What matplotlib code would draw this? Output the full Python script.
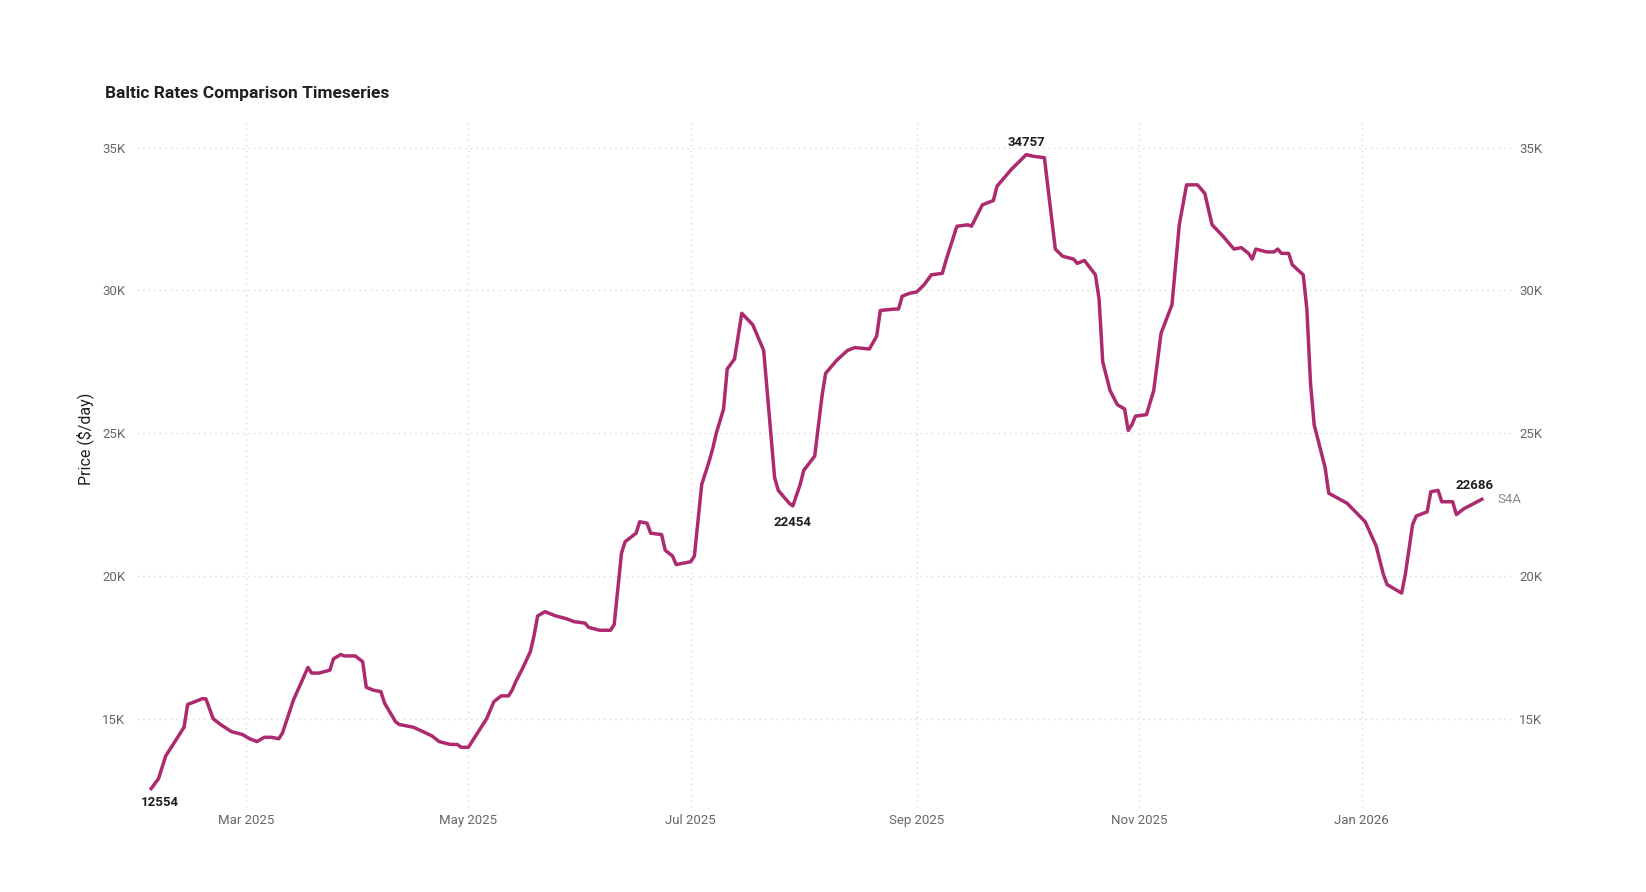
import matplotlib
matplotlib.use("Agg")
import matplotlib.pyplot as plt
import matplotlib.dates as mdates
from matplotlib.ticker import FuncFormatter, FixedLocator
import pandas as pd

LINE = "#AD2A6F"
INK = "#1F1F1F"
GREY = "#666666"
GRID = "#D9D9D9"

plt.rcParams["font.family"] = ["Roboto", "DejaVu Sans"]

# S4A timecharter rate, $/day
DATES = [
    "2025-02-03", "2025-02-05", "2025-02-07", "2025-02-09", "2025-02-12", "2025-02-13",
    "2025-02-17", "2025-02-18", "2025-02-20", "2025-02-22", "2025-02-25", "2025-02-28",
    "2025-03-02", "2025-03-04", "2025-03-06", "2025-03-08", "2025-03-10", "2025-03-11",
    "2025-03-14", "2025-03-18", "2025-03-19", "2025-03-21", "2025-03-24", "2025-03-25",
    "2025-03-27", "2025-03-28", "2025-03-31", "2025-04-02", "2025-04-03", "2025-04-05",
    "2025-04-07", "2025-04-08", "2025-04-11", "2025-04-12", "2025-04-16", "2025-04-21",
    "2025-04-23", "2025-04-26", "2025-04-28", "2025-04-29", "2025-05-01", "2025-05-03",
    "2025-05-06", "2025-05-08", "2025-05-10", "2025-05-12", "2025-05-13", "2025-05-14",
    "2025-05-16", "2025-05-18", "2025-05-19", "2025-05-20", "2025-05-22", "2025-05-25",
    "2025-05-28", "2025-05-30", "2025-06-02", "2025-06-03", "2025-06-06", "2025-06-09",
    "2025-06-10", "2025-06-12", "2025-06-13", "2025-06-16", "2025-06-17", "2025-06-19",
    "2025-06-20", "2025-06-23", "2025-06-24", "2025-06-26", "2025-06-27", "2025-07-01",
    "2025-07-02", "2025-07-04", "2025-07-06", "2025-07-07", "2025-07-08", "2025-07-10",
    "2025-07-11", "2025-07-13", "2025-07-15", "2025-07-18", "2025-07-21", "2025-07-24",
    "2025-07-25", "2025-07-28", "2025-07-29", "2025-07-31", "2025-08-01", "2025-08-04",
    "2025-08-06", "2025-08-07", "2025-08-10", "2025-08-13", "2025-08-15", "2025-08-19",
    "2025-08-21", "2025-08-22", "2025-08-26", "2025-08-27", "2025-08-28", "2025-08-30",
    "2025-09-01", "2025-09-03", "2025-09-05", "2025-09-08", "2025-09-09", "2025-09-10",
    "2025-09-12", "2025-09-15", "2025-09-16", "2025-09-18", "2025-09-19", "2025-09-22",
    "2025-09-23", "2025-09-25", "2025-09-27", "2025-09-29", "2025-10-01", "2025-10-03",
    "2025-10-06", "2025-10-09", "2025-10-11", "2025-10-14", "2025-10-15", "2025-10-17",
    "2025-10-20", "2025-10-21", "2025-10-22", "2025-10-24", "2025-10-26", "2025-10-28",
    "2025-10-29", "2025-10-30", "2025-10-31", "2025-11-03", "2025-11-05", "2025-11-07",
    "2025-11-10", "2025-11-12", "2025-11-14", "2025-11-17", "2025-11-19", "2025-11-21",
    "2025-11-24", "2025-11-26", "2025-11-27", "2025-11-29", "2025-12-01", "2025-12-02",
    "2025-12-03", "2025-12-06", "2025-12-08", "2025-12-09", "2025-12-10", "2025-12-12",
    "2025-12-13", "2025-12-16", "2025-12-17", "2025-12-18", "2025-12-19", "2025-12-22",
    "2025-12-23", "2025-12-28", "2026-01-02", "2026-01-05", "2026-01-07", "2026-01-08",
    "2026-01-12", "2026-01-13", "2026-01-15", "2026-01-16", "2026-01-19", "2026-01-20",
    "2026-01-22", "2026-01-23", "2026-01-26", "2026-01-27", "2026-01-29", "2026-02-01",
    "2026-02-03",
]
RATES = [
    12554, 12900, 13700, 14100, 14700, 15500,
    15700, 15700, 15000, 14800, 14550, 14450,
    14300, 14200, 14350, 14350, 14300, 14500,
    15650, 16800, 16600, 16600, 16700, 17100,
    17250, 17200, 17200, 17000, 16100, 16000,
    15950, 15550, 14900, 14800, 14700, 14400,
    14200, 14100, 14100, 14000, 14000, 14400,
    15000, 15600, 15800, 15800, 16000, 16300,
    16800, 17350, 17900, 18600, 18750, 18600,
    18500, 18400, 18350, 18200, 18100, 18100,
    18300, 20800, 21200, 21500, 21900, 21850,
    21500, 21450, 20900, 20700, 20400, 20500,
    20700, 23200, 24000, 24450, 25000, 25850,
    27250, 27600, 29200, 28800, 27900, 23450,
    23000, 22550, 22454, 23200, 23700, 24200,
    26300, 27100, 27550, 27900, 28000, 27950,
    28400, 29300, 29350, 29350, 29800, 29900,
    29950, 30200, 30550, 30600, 31050, 31450,
    32250, 32300, 32250, 32750, 33000, 33150,
    33650, 33950, 34250, 34500, 34757, 34700,
    34650, 31450, 31200, 31100, 30950, 31050,
    30550, 29700, 27500, 26500, 26000, 25850,
    25100, 25300, 25600, 25650, 26500, 28500,
    29500, 32300, 33700, 33700, 33400, 32300,
    31900, 31600, 31450, 31500, 31300, 31100,
    31450, 31350, 31350, 31450, 31300, 31300,
    30900, 30550, 29350, 26750, 25300, 23800,
    22900, 22550, 21900, 21050, 20050, 19700,
    19400, 20050, 21800, 22100, 22250, 22950,
    23000, 22600, 22600, 22150, 22350, 22550,
    22686,
]
SERIES = "S4A"
TITLE = "Baltic Rates Comparison Timeseries"
Y_TICKS = [15000, 20000, 25000, 30000, 35000]
X_TICKS = ["2025-03-01", "2025-05-01", "2025-07-01", "2025-09-01", "2025-11-01", "2026-01-01"]

dates = pd.to_datetime(DATES)
kfmt = FuncFormatter(lambda v, _: f"{v / 1000:.0f}K")

fig = plt.figure(figsize=(16.46, 8.92), dpi=100)
fig.patch.set_facecolor("white")
ax = fig.add_axes([0.083, 0.095, 0.835, 0.773])

ax.plot(dates, RATES, color=LINE, lw=2.5, solid_joinstyle="round", zorder=3)

ax.set_xlim(pd.Timestamp("2025-01-30"), pd.Timestamp("2026-02-11"))
ax.set_ylim(11900, 36050)
ax.xaxis.set_major_locator(FixedLocator(mdates.date2num(pd.to_datetime(X_TICKS))))
ax.xaxis.set_major_formatter(mdates.DateFormatter("%b %Y"))
ax.set_yticks(Y_TICKS)
ax.yaxis.set_major_formatter(kfmt)
ax.grid(color=GRID, lw=1.0, ls=(0, (1, 3)), zorder=0)
for sp in ax.spines.values():
    sp.set_visible(False)
ax.tick_params(length=0, colors=GREY, labelsize=9.5)
ax.tick_params(axis="y", pad=8)
ax.tick_params(axis="x", pad=5)
ax.set_ylabel("Price ($/day)", fontsize=11.5, color=INK)
ax.yaxis.set_label_coords(-0.031, 0.535)

ax2 = ax.twinx()
ax2.set_ylim(ax.get_ylim())
ax2.set_yticks(Y_TICKS)
ax2.yaxis.set_major_formatter(kfmt)
for sp in ax2.spines.values():
    sp.set_visible(False)
ax2.tick_params(length=0, colors=GREY, labelsize=9.5, pad=6)

# data labels: first, local low, peak, last
lab = dict(fontsize=9.5, fontweight="bold", color=INK, ha="center",
           textcoords="offset points")
i_min = RATES.index(22454)
i_max = RATES.index(max(RATES))
ax.annotate(f"{RATES[0]}", (dates[0], RATES[0]), xytext=(6, -5), va="top", **lab)
ax.annotate(f"{RATES[i_min]}", (dates[i_min], RATES[i_min]), xytext=(0, -7), va="top", **lab)
ax.annotate(f"{RATES[i_max]}", (dates[i_max], RATES[i_max]), xytext=(0, 4), va="bottom", **lab)
ax.annotate(f"{RATES[-1]}", (dates[-1], RATES[-1]), xytext=(-5, 5), va="bottom", **lab)
ax.annotate(SERIES, (dates[-1], RATES[-1]), xytext=(11, 0), textcoords="offset points",
            ha="left", va="center", fontsize=9.5, color="#8A8A8A")

fig.text(0.064, 0.895, TITLE, fontsize=12.5, fontweight="bold", color=INK, va="center")

fig.savefig("out.png", dpi=100, facecolor="white")
